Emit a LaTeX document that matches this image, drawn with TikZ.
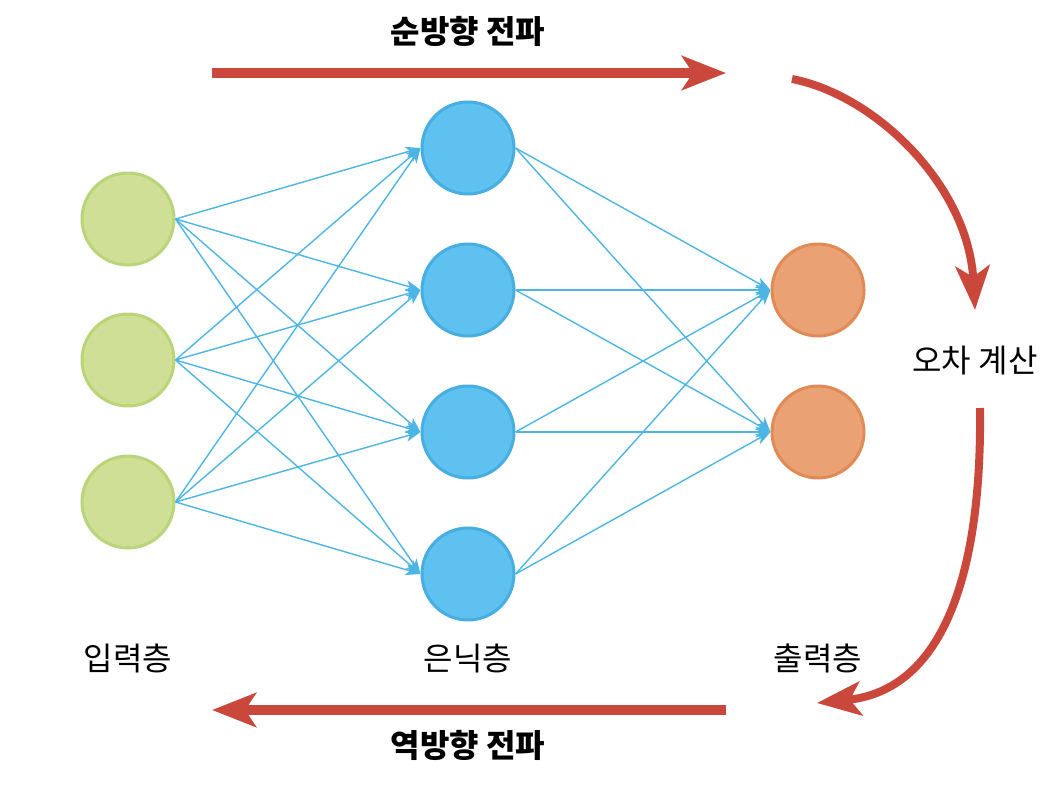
\documentclass[tikz,border=0pt]{standalone}
\usepackage{fontspec}
\setmainfont{Noto Sans CJK KR}
\usetikzlibrary{arrows.meta}
\definecolor{inFill}{HTML}{CFE096}
\definecolor{inLine}{HTML}{BAD47A}
\definecolor{hidFill}{HTML}{5EC1EF}
\definecolor{hidLine}{HTML}{47AEE2}
\definecolor{outFill}{HTML}{EAA274}
\definecolor{outLine}{HTML}{E08A56}
\definecolor{wireBlue}{HTML}{4DB5E3}
\definecolor{flowRed}{HTML}{C9483B}
\begin{document}
\begin{tikzpicture}
  [x=1pt,y=-1pt,
   unit/.style={circle,minimum size=92pt,inner sep=0pt,line width=3pt},
   wire/.style={draw=wireBlue,line width=1.4pt,-{Stealth[length=15pt,width=11pt,inset=4pt]}},
   flow/.style={draw=flowRed,line width=10pt,-{Stealth[length=44pt,width=34pt,inset=11pt]}},
   layer/.style={font=\fontsize{32}{38}\selectfont},
   title/.style={font=\fontsize{32}{38}\selectfont\bfseries}]
    \useasboundingbox (0,0) rectangle (1060,787);

    \node (i1) [unit,fill=inFill,draw=inLine] at (128,219) {};
    \node (i2) [unit,fill=inFill,draw=inLine] at (128,360) {};
    \node (i3) [unit,fill=inFill,draw=inLine] at (128,502) {};

    \node (h1) [unit,fill=hidFill,draw=hidLine] at (468,148) {};
    \node (h2) [unit,fill=hidFill,draw=hidLine] at (468,290) {};
    \node (h3) [unit,fill=hidFill,draw=hidLine] at (468,432) {};
    \node (h4) [unit,fill=hidFill,draw=hidLine] at (468,574) {};

    \node (o1) [unit,fill=outFill,draw=outLine] at (818,290) {};
    \node (o2) [unit,fill=outFill,draw=outLine] at (818,432) {};

    \foreach \from in {i1,i2,i3}
      \foreach \to in {h1,h2,h3,h4}
        \draw[wire] (\from.east) -- (\to.west);
    \foreach \from in {h1,h2,h3,h4}
      \foreach \to in {o1,o2}
        \draw[wire] (\from.east) -- (\to.west);

    \node (lin)  [layer] at (128,658) {입력층};
    \node (lhid) [layer] at (468,658) {은닉층};
    \node (lout) [layer] at (818,658) {출력층};

    \coordinate (fwdS) at (212,73);
    \coordinate (fwdE) at (726,73);
    \coordinate (bwdS) at (726,710);
    \coordinate (bwdE) at (212,710);
    \coordinate (errA) at (792,79);
    \coordinate (errB) at (975,310);
    \coordinate (errC) at (980,408);
    \coordinate (errD) at (817,703);

    \draw[flow] (fwdS) -- (fwdE);
    \draw[flow] (bwdS) -- (bwdE);
    \draw[flow,line width=8pt] (errA) .. controls (875,95) and (968,185) .. (errB);
    \draw[flow,line width=8pt] (errC) .. controls (982,570) and (945,690) .. (errD);

    \node (tfwd) [title] at (468,31)  {순방향 전파};
    \node (tbwd) [title] at (468,745) {역방향 전파};
    \node (terr) [layer] at (975,361) {오차 계산};
  \end{tikzpicture}
\end{document}
